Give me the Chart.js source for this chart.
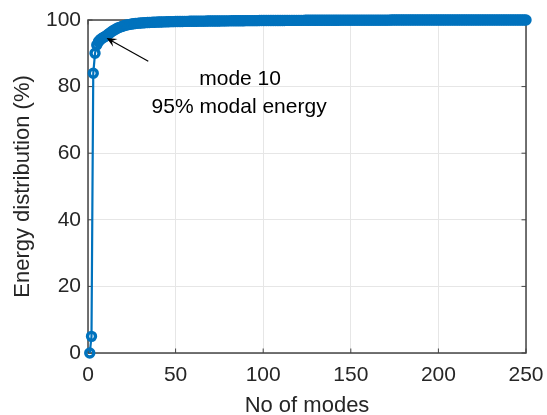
<!DOCTYPE html>
<html>
<head>
<meta charset="utf-8">
<script src="https://cdn.jsdelivr.net/npm/chart.js@4"></script>
<style>
html,body{margin:0;padding:0;background:#fff;}
#wrap{width:547px;height:415px;position:relative;}
</style>
</head>
<body>
<div id="wrap"><canvas id="c" width="547" height="415"></canvas></div>
<script>
// Cumulative modal energy (%) for modes 1..250
const energy = [
  0, 5, 84, 90, 92.5, 93.5, 94.1, 94.5, 94.8, 95.1,
  95.5, 95.9, 96.3, 96.7, 97.0, 97.3, 97.6, 97.8, 98.0, 98.2,
  98.35, 98.5, 98.6, 98.7, 98.8, 98.87, 98.94, 99.0, 99.05, 99.1,
  99.14, 99.18, 99.21, 99.24, 99.27, 99.3, 99.32, 99.34, 99.36, 99.38,
  99.4, 99.42, 99.44, 99.45, 99.47, 99.48, 99.5, 99.51, 99.52, 99.53,
  99.54, 99.55, 99.56, 99.57, 99.58, 99.59, 99.6, 99.61, 99.62, 99.62,
  99.63, 99.64, 99.65, 99.65, 99.66, 99.67, 99.67, 99.68, 99.69, 99.69,
  99.7, 99.7, 99.71, 99.72, 99.72, 99.73, 99.73, 99.74, 99.74, 99.75,
  99.75, 99.76, 99.76, 99.77, 99.77, 99.78, 99.78, 99.79, 99.79, 99.8,
  99.8, 99.8, 99.81, 99.81, 99.82, 99.82, 99.82, 99.83, 99.83, 99.84,
  99.84, 99.84, 99.85, 99.85, 99.85, 99.86, 99.86, 99.86, 99.87, 99.87,
  99.87, 99.87, 99.88, 99.88, 99.88, 99.89, 99.89, 99.89, 99.89, 99.9,
  99.9, 99.9, 99.9, 99.91, 99.91, 99.91, 99.91, 99.92, 99.92, 99.92,
  99.92, 99.92, 99.93, 99.93, 99.93, 99.93, 99.93, 99.94, 99.94, 99.94,
  99.94, 99.94, 99.94, 99.95, 99.95, 99.95, 99.95, 99.95, 99.95, 99.96,
  99.96, 99.96, 99.96, 99.96, 99.96, 99.96, 99.97, 99.97, 99.97, 99.97,
  99.97, 99.97, 99.97, 99.97, 99.97, 99.97, 99.97, 99.97, 99.97, 99.97,
  99.97, 99.97, 99.98, 99.98, 99.98, 99.98, 99.98, 99.98, 99.98, 99.98,
  99.98, 99.98, 99.98, 99.98, 99.98, 99.98, 99.98, 99.98, 99.98, 99.98,
  99.98, 99.98, 99.99, 99.99, 99.99, 99.99, 99.99, 99.99, 99.99, 99.99,
  99.99, 99.99, 99.99, 99.99, 99.99, 99.99, 99.99, 99.99, 99.99, 99.99,
  99.99, 99.99, 99.99, 99.99, 99.99, 99.99, 99.99, 99.99, 99.99, 99.99,
  99.99, 99.99, 99.99, 99.99, 99.99, 99.99, 99.99, 99.99, 99.99, 99.99,
  100, 100, 100, 100, 100, 100, 100, 100, 100, 100,
  100, 100, 100, 100, 100, 100, 100, 100, 100, 100
];
const modes = energy.map((v, i) => i + 1);
const xTicks = [0, 50, 100, 150, 200, 250];
const yTicks = [0, 20, 40, 60, 80, 100];
const xTitle = 'No of modes';
const yTitle = 'Energy distribution (%)';
const noteLines = ['mode 10', '95% modal energy'];
const noteAnchor = {x: 86.8, y: 80.6};   // data coords of first text baseline
const arrowFrom = {x: 34.4, y: 87.6};
const arrowTo = {x: 10.6, y: 94.6};

const FONT = "'Liberation Sans', Arial, sans-serif";
const AX = '#262626';

const boxPlugin = {
  id: 'box',
  beforeDatasetsDraw(chart) {
    const {ctx, chartArea: a, scales: {x, y}} = chart;
    ctx.save();
    ctx.strokeStyle = '#444';
    ctx.lineWidth = 1.5;
    ctx.strokeRect(a.left, a.top, a.right - a.left, a.bottom - a.top);
    ctx.lineWidth = 1;
    const tl = 4.5;
    ctx.beginPath();
    xTicks.forEach(t => {
      const px = x.getPixelForValue(t);
      ctx.moveTo(px, a.bottom); ctx.lineTo(px, a.bottom - tl);
      ctx.moveTo(px, a.top); ctx.lineTo(px, a.top + tl);
    });
    yTicks.forEach(t => {
      const py = y.getPixelForValue(t);
      ctx.moveTo(a.left, py); ctx.lineTo(a.left + tl, py);
      ctx.moveTo(a.right, py); ctx.lineTo(a.right - tl, py);
    });
    ctx.stroke();
    ctx.restore();
  },
  afterDatasetsDraw(chart) {
    const {ctx, scales: {x, y}} = chart;
    ctx.save();
    // annotation text
    ctx.fillStyle = '#000';
    ctx.font = "21px " + FONT;
    ctx.textAlign = 'center';
    ctx.textBaseline = 'alphabetic';
    const tx = x.getPixelForValue(noteAnchor.x);
    const ty = y.getPixelForValue(noteAnchor.y);
    ctx.fillText(noteLines[0], tx, ty);
    ctx.fillText(noteLines[1], tx - 1, ty + 28);
    // arrow
    const x0 = x.getPixelForValue(arrowFrom.x), y0 = y.getPixelForValue(arrowFrom.y);
    const x1 = x.getPixelForValue(arrowTo.x), y1 = y.getPixelForValue(arrowTo.y);
    const ang = Math.atan2(y1 - y0, x1 - x0);
    ctx.strokeStyle = '#000';
    ctx.lineWidth = 1.2;
    ctx.beginPath();
    ctx.moveTo(x0, y0); ctx.lineTo(x1 - 3 * Math.cos(ang), y1 - 3 * Math.sin(ang));
    ctx.stroke();
    const hl = 11, hw = 0.42;
    ctx.fillStyle = '#000';
    ctx.beginPath();
    ctx.moveTo(x1, y1);
    ctx.lineTo(x1 - hl * Math.cos(ang - hw), y1 - hl * Math.sin(ang - hw));
    ctx.lineTo(x1 - 0.55 * hl * Math.cos(ang), y1 - 0.55 * hl * Math.sin(ang));
    ctx.lineTo(x1 - hl * Math.cos(ang + hw), y1 - hl * Math.sin(ang + hw));
    ctx.closePath();
    ctx.fill();
    ctx.restore();
  }
};

new Chart(document.getElementById('c'), {
  type: 'line',
  data: {
    datasets: [{
      data: modes.map((m, i) => ({x: m, y: energy[i]})),
      borderColor: '#0072BD',
      borderWidth: 2.2,
      pointRadius: 4,
      pointBorderWidth: 3.4,
      pointBorderColor: '#0072BD',
      pointBackgroundColor: 'rgba(255,255,255,0)',
      tension: 0,
      clip: false
    }]
  },
  options: {
    responsive: false,
    animation: false,
    devicePixelRatio: 1,
    layout: {padding: {left: 0, right: 21, top: 20, bottom: 0}},
    plugins: {legend: {display: false}, tooltip: {enabled: false}},
    scales: {
      x: {
        type: 'linear', min: 0, max: 250,
        afterBuildTicks: s => { s.ticks = xTicks.map(v => ({value: v})); },
        afterFit: s => { s.height = 62; s.paddingLeft = 0; s.paddingRight = 0; },
        grid: {color: '#e6e6e6', lineWidth: 1, drawTicks: false},
        border: {display: false},
        ticks: {color: AX, font: {family: FONT, size: 21}, padding: 10, maxRotation: 0},
        title: {display: true, text: xTitle, color: AX, font: {family: FONT, size: 22, lineHeight: 0.8}, padding: 0}
      },
      y: {
        type: 'linear', min: 0, max: 100,
        afterBuildTicks: s => { s.ticks = yTicks.map(v => ({value: v})); },
        afterFit: s => { s.width = 88; s.paddingTop = 0; s.paddingBottom = 0; },
        grid: {color: '#e6e6e6', lineWidth: 1, drawTicks: false},
        border: {display: false},
        ticks: {color: AX, font: {family: FONT, size: 21}, padding: 7},
        title: {display: true, text: yTitle, color: AX, font: {family: FONT, size: 22, lineHeight: 1.2}, padding: {top: 10, bottom: 0}}
      }
    }
  },
  plugins: [boxPlugin]
});
</script>
</body>
</html>
